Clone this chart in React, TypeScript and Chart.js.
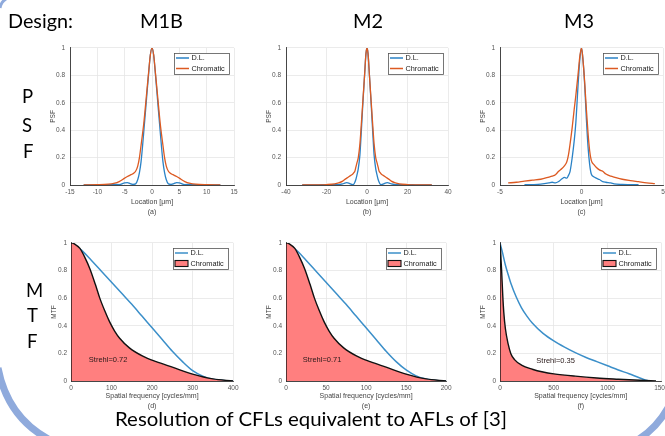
import React, { useEffect, useRef } from 'react';
import { Chart, registerables } from 'chart.js';

Chart.register(...registerables);
Chart.defaults.font.family = "'Liberation Sans', Arial, sans-serif";

// ---------- Data ----------
// PSF, design M1B
const psf1ChromX = [-12.5, -10, -8, -7, -6, -5, -4.5, -4, -3.5, -3, -2.6, -2.3, -2, -1.5, -1, -0.6, -0.3, 0, 0.3, 0.6, 1, 1.5, 2, 2.3, 2.6, 3, 3.5, 4, 4.5, 5, 6, 7, 8, 10, 12.5];
const psf1ChromY = [0, 0.002, 0.006, 0.012, 0.025, 0.05, 0.062, 0.072, 0.082, 0.1, 0.14, 0.2, 0.29, 0.45, 0.66, 0.83, 0.95, 1, 0.95, 0.83, 0.66, 0.45, 0.29, 0.2, 0.14, 0.1, 0.082, 0.072, 0.062, 0.05, 0.025, 0.012, 0.006, 0.002, 0];
const psf1DlX = [-12.5, -10, -8, -7, -6, -5, -4.5, -4, -3.5, -3, -2.6, -2.3, -2, -1.5, -1, -0.6, -0.3, 0, 0.3, 0.6, 1, 1.5, 2, 2.3, 2.6, 3, 3.5, 4, 4.5, 5, 6, 7, 8, 10, 12.5];
const psf1DlY = [0, 0.001, 0.002, 0.004, 0.003, 0.015, 0.018, 0.01, 0.004, 0.008, 0.04, 0.09, 0.17, 0.39, 0.63, 0.82, 0.95, 1, 0.95, 0.82, 0.63, 0.39, 0.17, 0.09, 0.04, 0.008, 0.004, 0.01, 0.018, 0.015, 0.003, 0.004, 0.002, 0.001, 0];

// PSF, design M2
const psf2ChromX = [-32, -24, -20, -16, -14, -12, -11, -10, -9, -8, -7, -6.5, -6, -5.5, -5, -4.3, -3.5, -3, -2.1, -1.2, -0.5, 0, 0.5, 1.2, 2.1, 3, 3.5, 4.3, 5, 5.5, 6, 6.5, 7, 8, 9, 10, 11, 12, 14, 16, 20, 24, 32];
const psf2ChromY = [0, 0.001, 0.003, 0.008, 0.015, 0.028, 0.04, 0.05, 0.06, 0.07, 0.08, 0.09, 0.1, 0.13, 0.16, 0.2, 0.3, 0.4, 0.6, 0.8, 0.96, 1, 0.96, 0.8, 0.6, 0.4, 0.3, 0.2, 0.16, 0.13, 0.1, 0.09, 0.08, 0.07, 0.06, 0.05, 0.04, 0.028, 0.015, 0.008, 0.003, 0.001, 0];
const psf2DlX = [-32, -24, -20, -16, -14, -12, -11, -10, -9, -8, -7, -6.5, -6, -5.5, -5, -4.3, -3.5, -3, -2.1, -1.2, -0.5, 0, 0.5, 1.2, 2.1, 3, 3.5, 4.3, 5, 5.5, 6, 6.5, 7, 8, 9, 10, 11, 12, 14, 16, 20, 24, 32];
const psf2DlY = [0, 0.001, 0.003, 0.002, 0.003, 0.008, 0.014, 0.017, 0.014, 0.007, 0.003, 0.006, 0.02, 0.04, 0.07, 0.12, 0.22, 0.34, 0.58, 0.8, 0.96, 1, 0.96, 0.8, 0.58, 0.34, 0.22, 0.12, 0.07, 0.04, 0.02, 0.006, 0.003, 0.007, 0.014, 0.017, 0.014, 0.008, 0.003, 0.002, 0.003, 0.001, 0];

// PSF, design M3
const psf3ChromX = [-4.5, -4, -3.5, -3, -2.5, -2, -1.8, -1.6, -1.4, -1.2, -1.05, -0.9, -0.8, -0.7, -0.57, -0.45, -0.35, -0.2, -0.1, 0, 0.1, 0.2, 0.3, 0.4, 0.5, 0.6, 0.75, 0.9, 1.1, 1.3, 1.5, 1.8, 2, 2.5, 3, 3.5, 4, 4.5];
const psf3ChromY = [0.015, 0.02, 0.028, 0.035, 0.042, 0.058, 0.065, 0.075, 0.1, 0.12, 0.14, 0.17, 0.22, 0.3, 0.42, 0.55, 0.65, 0.82, 0.94, 1, 0.9, 0.74, 0.55, 0.38, 0.25, 0.18, 0.15, 0.13, 0.11, 0.1, 0.08, 0.065, 0.058, 0.042, 0.032, 0.024, 0.016, 0.01];
const psf3DlX = [-3.5, -3, -2.5, -2, -1.8, -1.6, -1.4, -1.2, -1.05, -0.9, -0.8, -0.7, -0.57, -0.45, -0.35, -0.2, -0.1, 0, 0.1, 0.2, 0.3, 0.4, 0.5, 0.6, 0.75, 0.9, 1.1, 1.3, 1.5, 1.8, 2, 2.5, 3, 3.5];
const psf3DlY = [0.002, 0.003, 0.006, 0.015, 0.02, 0.015, 0.025, 0.045, 0.055, 0.05, 0.07, 0.1, 0.2, 0.32, 0.45, 0.75, 0.92, 1, 0.9, 0.72, 0.48, 0.28, 0.15, 0.08, 0.06, 0.05, 0.04, 0.025, 0.02, 0.015, 0.008, 0.004, 0.003, 0.002];

// MTF, design M1B
const mtf1DlX = [0, 25, 50, 75, 100, 125, 150, 175, 200, 225, 250, 275, 300, 325, 350, 375, 400];
const mtf1DlY = [1, 0.95, 0.875, 0.795, 0.715, 0.635, 0.555, 0.47, 0.385, 0.3, 0.215, 0.14, 0.075, 0.035, 0.013, 0.004, 0];
const mtf1ChromX = [0, 0, 10, 22, 35, 47, 60, 71, 83, 95, 108, 120, 144, 177, 210, 250, 300, 350, 400];
const mtf1ChromY = [0, 1, 0.99, 0.96, 0.89, 0.81, 0.7, 0.6, 0.51, 0.43, 0.36, 0.31, 0.24, 0.18, 0.14, 0.1, 0.05, 0.015, 0];

// MTF, design M2
const mtf2DlX = [0, 12.5, 25, 37.5, 50, 62.5, 75, 87.5, 100, 112.5, 125, 137.5, 150, 162.5, 175, 187.5, 200];
const mtf2DlY = [1, 0.95, 0.875, 0.795, 0.715, 0.635, 0.555, 0.47, 0.385, 0.3, 0.215, 0.14, 0.08, 0.037, 0.014, 0.004, 0];
const mtf2ChromX = [0, 0, 5, 11, 17.5, 23.5, 30, 35.5, 41.5, 47.5, 54, 60, 72, 88.5, 105, 125, 150, 175, 200];
const mtf2ChromY = [0, 1, 0.99, 0.96, 0.89, 0.81, 0.7, 0.6, 0.51, 0.43, 0.36, 0.31, 0.24, 0.18, 0.14, 0.1, 0.05, 0.015, 0];

// MTF, design M3
const mtf3DlX = [0, 20, 50, 80, 100, 150, 200, 250, 300, 400, 500, 600, 700, 800, 900, 1000, 1100, 1200, 1300, 1370, 1400];
const mtf3DlY = [1, 0.94, 0.84, 0.76, 0.71, 0.61, 0.53, 0.47, 0.42, 0.345, 0.29, 0.245, 0.205, 0.17, 0.14, 0.11, 0.08, 0.052, 0.022, 0.003, 0];
const mtf3ChromX = [0, 0, 5, 10, 15, 25, 35, 50, 75, 100, 135, 200, 300, 400, 500, 700, 900, 1100, 1300, 1450];
const mtf3ChromY = [0, 1, 0.95, 0.87, 0.8, 0.63, 0.5, 0.38, 0.27, 0.2, 0.155, 0.115, 0.085, 0.065, 0.052, 0.035, 0.022, 0.013, 0.005, 0];

const strehlLabels = ['Strehl=0.72', 'Strehl=0.71', 'Strehl=0.35'];
const strehlAtX = [44, 21, 338];
const strehlAtY = [0.15, 0.15, 0.143];

const legendLabels = ['D.L.', 'Chromatic'];
const designNames = ['M1B', 'M2', 'M3'];

// ---------- Styles ----------
const BLUE = '#2A82C6';
const BLUE_MTF = '#3B8FC9';
const ORANGE = '#DC5A22';
const RED_FILL = '#FF7F7F';

const pts = (xs: number[], ys: number[]) => xs.map((x, i) => ({ x, y: ys[i] }));

const miniLegend = {
  id: 'miniLegend',
  afterDraw(chart: any, _a: any, opts: any) {
    const { ctx, chartArea } = chart;
    const w = 55, h = 21;
    const x0 = Math.round(chartArea.right - 5 - w);
    const y0 = Math.round(chartArea.top + 5);
    ctx.save();
    ctx.fillStyle = '#fff';
    ctx.fillRect(x0, y0, w, h);
    ctx.strokeStyle = '#555';
    ctx.lineWidth = 0.8;
    ctx.strokeRect(x0 + 0.5, y0 + 0.5, w, h);
    const rows = [y0 + 5, y0 + 15.5];
    ctx.font = "7.3px 'Liberation Sans', Arial, sans-serif";
    ctx.textBaseline = 'middle';
    ctx.fillStyle = '#222';
    ctx.strokeStyle = opts.kind === 'psf' ? BLUE : BLUE_MTF;
    ctx.lineWidth = 1.5;
    ctx.beginPath();
    ctx.moveTo(x0 + 2, rows[0]);
    ctx.lineTo(x0 + 15, rows[0]);
    ctx.stroke();
    ctx.fillText(legendLabels[0], x0 + 17.5, rows[0]);
    if (opts.kind === 'psf') {
      ctx.strokeStyle = ORANGE;
      ctx.beginPath();
      ctx.moveTo(x0 + 2, rows[1]);
      ctx.lineTo(x0 + 15, rows[1]);
      ctx.stroke();
    } else {
      ctx.fillStyle = RED_FILL;
      ctx.fillRect(x0 + 2, rows[1] - 3, 13, 6);
      ctx.strokeStyle = '#111';
      ctx.lineWidth = 1.1;
      ctx.strokeRect(x0 + 2, rows[1] - 3, 13, 6);
      ctx.fillStyle = '#222';
    }
    ctx.fillText(legendLabels[1], x0 + 17.5, rows[1]);
    ctx.restore();
  },
};

const strehlPlugin = {
  id: 'strehl',
  afterDatasetsDraw(chart: any, _a: any, opts: any) {
    if (!opts || !opts.text) return;
    const { ctx, scales } = chart;
    ctx.save();
    ctx.font = "7.5px 'Liberation Sans', Arial, sans-serif";
    ctx.fillStyle = '#2a1a1a';
    ctx.textBaseline = 'middle';
    ctx.textAlign = 'left';
    ctx.fillText(opts.text, scales.x.getPixelForValue(opts.x), scales.y.getPixelForValue(opts.y));
    ctx.restore();
  },
};

type Spec = {
  left: number; right: number; top: number; bottom: number;
  xMin: number; xMax: number; xStep: number;
  xTitle: string[]; yTitle: string;
  kind: 'psf' | 'mtf';
  datasets: any[];
  xAxisH: number; xTickPad: number; yTickPad: number;
  strehl?: { text: string; x: number; y: number };
};

const PAD_T = 6;
const PAD_R = 8;
const Y_W = 22;

function Plot({ spec }: { spec: Spec }) {
  const ref = useRef<HTMLCanvasElement>(null);
  const w = Y_W + (spec.right - spec.left) + PAD_R;
  const h = PAD_T + (spec.bottom - spec.top) + spec.xAxisH;
  useEffect(() => {
    const tickFont = { size: 6.5, lineHeight: 1.2 };
    const chart = new Chart(ref.current as HTMLCanvasElement, {
      type: 'line',
      data: { datasets: spec.datasets },
      options: {
        responsive: false,
        animation: false,
        devicePixelRatio: 1,
        layout: { padding: { left: 0, top: PAD_T, right: PAD_R, bottom: 0 } },
        elements: { point: { radius: 0 } },
        plugins: {
          legend: { display: false },
          tooltip: { enabled: false },
          miniLegend: { kind: spec.kind },
          strehl: spec.strehl || {},
        } as any,
        scales: {
          x: {
            type: 'linear',
            min: spec.xMin,
            max: spec.xMax,
            ticks: {
              stepSize: spec.xStep,
              autoSkip: false,
              maxRotation: 0,
              padding: spec.xTickPad,
              font: tickFont,
              color: '#555',
              callback: (v: any) => String(v),
            },
            grid: { color: '#e6e6e6', lineWidth: 0.8, drawTicks: false },
            border: { color: '#333', width: 0.9 },
            title: {
              display: true,
              text: spec.xTitle,
              font: { size: 7, lineHeight: 1.4 },
              color: '#444',
              padding: { top: 0, bottom: 0 },
            },
            afterFit: (s: any) => { s.height = spec.xAxisH; },
          },
          y: {
            type: 'linear',
            min: 0,
            max: 1,
            ticks: {
              stepSize: 0.2,
              padding: spec.yTickPad,
              font: tickFont,
              color: '#555',
              callback: (v: any) => String(Math.round(v * 10) / 10),
            },
            grid: { color: '#e6e6e6', lineWidth: 0.8, drawTicks: false },
            border: { color: '#333', width: 0.9 },
            title: {
              display: true,
              text: spec.yTitle,
              font: { size: 6.5, lineHeight: 1.2 },
              color: '#444',
              padding: { top: 1, bottom: 0 },
            },
            afterFit: (s: any) => { s.width = Y_W; },
          },
        },
      } as any,
      plugins: [miniLegend, strehlPlugin],
    });
    return () => chart.destroy();
  }, []);
  return (
    <canvas
      ref={ref}
      width={w}
      height={h}
      style={{ position: 'absolute', left: spec.left - Y_W, top: spec.top - PAD_T, width: w, height: h }}
    />
  );
}

const psfSets = (cx: number[], cy: number[], dx: number[], dy: number[]) => [
  { label: legendLabels[1], data: pts(cx, cy), borderColor: ORANGE, borderWidth: 1.3, cubicInterpolationMode: 'monotone', fill: false },
  { label: legendLabels[0], data: pts(dx, dy), borderColor: BLUE, borderWidth: 1.3, cubicInterpolationMode: 'monotone', fill: false },
];
const mtfSets = (dx: number[], dy: number[], cx: number[], cy: number[]) => [
  { label: legendLabels[1], data: pts(cx, cy), borderColor: '#111', borderWidth: 1.4, backgroundColor: RED_FILL, cubicInterpolationMode: 'monotone', fill: 'origin' },
  { label: legendLabels[0], data: pts(dx, dy), borderColor: BLUE_MTF, borderWidth: 1.5, cubicInterpolationMode: 'monotone', fill: false },
];

const psfBase = { top: 45, bottom: 185, kind: 'psf' as const, yTitle: 'PSF', xAxisH: 32, xTickPad: 3.8, yTickPad: 5 };
const mtfBase = { top: 241, bottom: 381, kind: 'mtf' as const, yTitle: 'MTF', xAxisH: 30, xTickPad: 3.4, yTickPad: 4 };

const specs: Spec[] = [
  { ...psfBase, left: 70, right: 234, xMin: -15, xMax: 15, xStep: 5, xTitle: ['Location [μm]', '(a)'], datasets: psfSets(psf1ChromX, psf1ChromY, psf1DlX, psf1DlY) },
  { ...psfBase, left: 286, right: 448, xMin: -40, xMax: 40, xStep: 20, xTitle: ['Location [μm]', '(b)'], datasets: psfSets(psf2ChromX, psf2ChromY, psf2DlX, psf2DlY) },
  { ...psfBase, left: 500, right: 663, xMin: -5, xMax: 5, xStep: 5, xTitle: ['Location [μm]', '(c)'], datasets: psfSets(psf3ChromX, psf3ChromY, psf3DlX, psf3DlY) },
  { ...mtfBase, left: 71, right: 234, xMin: 0, xMax: 400, xStep: 100, xTitle: ['Spatial frequency [cycles/mm]', '(d)'], datasets: mtfSets(mtf1DlX, mtf1DlY, mtf1ChromX, mtf1ChromY), strehl: { text: strehlLabels[0], x: strehlAtX[0], y: strehlAtY[0] } },
  { ...mtfBase, left: 286, right: 447, xMin: 0, xMax: 200, xStep: 50, xTitle: ['Spatial frequency [cycles/mm]', '(e)'], datasets: mtfSets(mtf2DlX, mtf2DlY, mtf2ChromX, mtf2ChromY), strehl: { text: strehlLabels[1], x: strehlAtX[1], y: strehlAtY[1] } },
  { ...mtfBase, left: 500, right: 664, xMin: 0, xMax: 1500, xStep: 500, xTitle: ['Spatial frequency [cycles/mm]', '(f)'], datasets: mtfSets(mtf3DlX, mtf3DlY, mtf3ChromX, mtf3ChromY), strehl: { text: strehlLabels[2], x: strehlAtX[2], y: strehlAtY[2] } },
];

const bigFont = { fontFamily: "Lato, 'Open Sans', sans-serif", fontSize: 18.5, fill: '#000' };

export default function App() {
  return (
    <div style={{ position: 'fixed', left: 0, top: 0, width: 665, height: 436, overflow: 'hidden', background: '#fff' }}>
      {specs.map((s, i) => <Plot key={i} spec={s} />)}
      <svg width={665} height={436} style={{ position: 'absolute', left: 0, top: 0, pointerEvents: 'none' }}>
        <path d="M -2 368 Q 8 420 54 442" stroke="#8FAADC" strokeWidth={7} fill="none" />
        <path d="M 634 442 Q 656 430 669 406" stroke="#8FAADC" strokeWidth={7} fill="none" />
        <path d="M 0 8 Q 1 2 6 -1" stroke="#8FAADC" strokeWidth={3} fill="none" />
        <text x={8} y={28} {...bigFont} textLength={65} lengthAdjust="spacingAndGlyphs">Design:</text>
        <text x={140} y={28} {...bigFont} textLength={43} lengthAdjust="spacingAndGlyphs">{designNames[0]}</text>
        <text x={353} y={28} {...bigFont} textLength={30} lengthAdjust="spacingAndGlyphs">{designNames[1]}</text>
        <text x={564} y={28} {...bigFont} textLength={30} lengthAdjust="spacingAndGlyphs">{designNames[2]}</text>
        <text x={22} y={103} {...bigFont}>P</text>
        <text x={22} y={132} {...bigFont}>S</text>
        <text x={23} y={158} {...bigFont}>F</text>
        <text x={26} y={297} {...bigFont}>M</text>
        <text x={27} y={322} {...bigFont}>T</text>
        <text x={27} y={348} {...bigFont}>F</text>
        <text x={115} y={426} {...bigFont} textLength={392} lengthAdjust="spacingAndGlyphs">Resolution of CFLs equivalent to AFLs of [3]</text>
      </svg>
    </div>
  );
}
